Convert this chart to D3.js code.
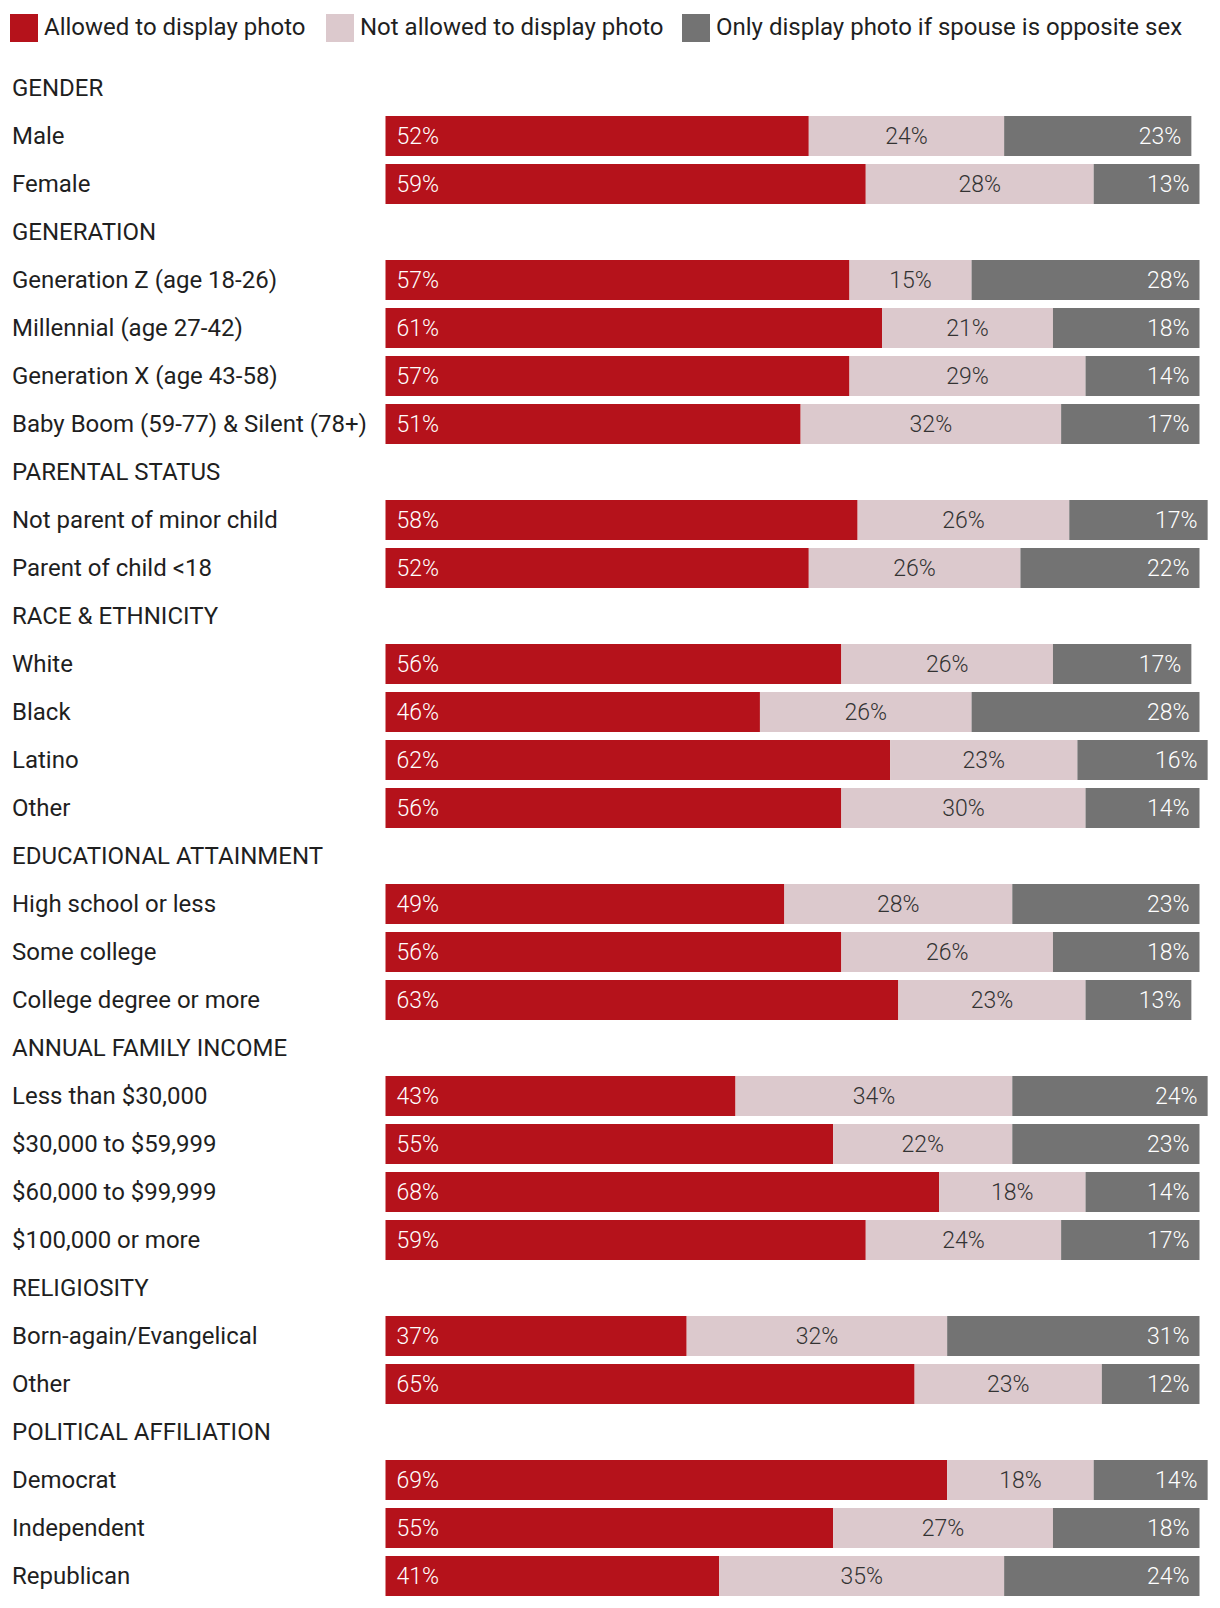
<!DOCTYPE html>
<html>
<head>
<meta charset="utf-8">
<script src="https://cdn.jsdelivr.net/npm/d3@7"></script>
<style>
  html, body { margin: 0; padding: 0; background: #fff; }
  svg { display: block; font-family: Roboto, "Noto Sans", sans-serif; }
</style>
</head>
<body>
<svg id="chart" width="1220" height="1608"></svg>
<script>
const seriesNames = ["Allowed to display photo", "Not allowed to display photo", "Only display photo if spouse is opposite sex"];
const seriesColors = ["#b5121b", "#dcc9cd", "#737373"];
const labelColors = ["#ffffff", "#333333", "#ffffff"];

const groups = ["GENDER", "GENERATION", "PARENTAL STATUS", "RACE & ETHNICITY", "EDUCATIONAL ATTAINMENT", "ANNUAL FAMILY INCOME", "RELIGIOSITY", "POLITICAL AFFILIATION"];
const categories = [
  ["Male", "Female"],
  ["Generation Z (age 18-26)", "Millennial (age 27-42)", "Generation X (age 43-58)", "Baby Boom (59-77) & Silent (78+)"],
  ["Not parent of minor child", "Parent of child <18"],
  ["White", "Black", "Latino", "Other"],
  ["High school or less", "Some college", "College degree or more"],
  ["Less than $30,000", "$30,000 to $59,999", "$60,000 to $99,999", "$100,000 or more"],
  ["Born-again/Evangelical", "Other"],
  ["Democrat", "Independent", "Republican"]
];
const allowed = [
  [52, 59],
  [57, 61, 57, 51],
  [58, 52],
  [56, 46, 62, 56],
  [49, 56, 63],
  [43, 55, 68, 59],
  [37, 65],
  [69, 55, 41]
];
const notAllowed = [
  [24, 28],
  [15, 21, 29, 32],
  [26, 26],
  [26, 26, 23, 30],
  [28, 26, 23],
  [34, 22, 18, 24],
  [32, 23],
  [18, 27, 35]
];
const oppositeOnly = [
  [23, 13],
  [28, 18, 14, 17],
  [17, 22],
  [17, 28, 16, 14],
  [23, 18, 13],
  [24, 23, 14, 17],
  [31, 12],
  [14, 18, 24]
];

// Build rows (headers + categories)
const rows = [];
groups.forEach((g, gi) => {
  rows.push({ type: "header", label: g });
  categories[gi].forEach((c, ci) => {
    rows.push({ type: "bar", label: c, values: [allowed[gi][ci], notAllowed[gi][ci], oppositeOnly[gi][ci]] });
  });
});

const svg = d3.select("#chart");
const textColor = "#1f1f1f";
const fontSize = 24;

const x = d3.scaleLinear().domain([0, 100]).range([385.5, 1199.5]);
const y = d3.scaleBand().domain(d3.range(rows.length)).range([64, 64 + 48 * rows.length]).paddingInner(1/6).paddingOuter(1/12);

// Legend
const legendX = [10, 326, 682];
const legend = svg.append("g");
seriesNames.forEach((name, i) => {
  legend.append("rect").attr("x", legendX[i]).attr("y", 14).attr("width", 28).attr("height", 28).attr("fill", seriesColors[i]);
  legend.append("text").attr("x", legendX[i] + 34).attr("y", 27).attr("dy", "0.35em")
    .attr("font-size", fontSize).attr("fill", textColor).text(name);
});

// Row labels
svg.append("g").selectAll("text").data(rows).join("text")
  .attr("x", 12)
  .attr("y", (d, i) => y(i) + y.bandwidth() / 2)
  .attr("dy", "0.35em")
  .attr("font-size", fontSize)
  .attr("fill", textColor)
  .text(d => d.label);

// Bars
const barRows = svg.append("g").selectAll("g").data(rows.map((r, i) => ({ ...r, i })).filter(r => r.type === "bar")).join("g");

barRows.each(function(r) {
  const g = d3.select(this);
  let cum = 0;
  const segs = r.values.map((v, k) => { const s = { k, v, x0: cum, x1: cum + v }; cum += v; return s; });
  const yTop = y(r.i), h = y.bandwidth();
  g.selectAll("rect").data(segs).join("rect")
    .attr("x", s => x(s.x0))
    .attr("y", yTop)
    .attr("width", s => x(s.x1) - x(s.x0))
    .attr("height", h)
    .attr("fill", s => seriesColors[s.k]);
  g.selectAll("text").data(segs).join("text")
    .attr("x", s => s.k === 0 ? x(s.x0) + 11 : s.k === 1 ? (x(s.x0) + x(s.x1)) / 2 : x(s.x1) - 10)
    .attr("text-anchor", s => s.k === 0 ? "start" : s.k === 1 ? "middle" : "end")
    .attr("y", yTop + h / 2)
    .attr("dy", "0.35em")
    .attr("font-size", 23)
    .attr("font-weight", 300)
    .attr("fill", s => labelColors[s.k])
    .text(s => s.v + "%");
});
</script>
</body>
</html>
